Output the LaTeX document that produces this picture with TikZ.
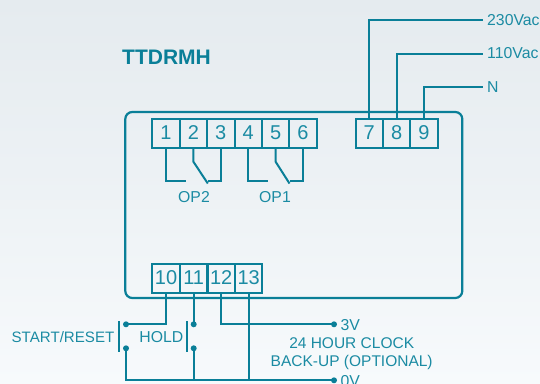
\documentclass[tikz,border=0pt]{standalone}
\usepackage{fontspec}
\setmainfont{Liberation Sans}
\definecolor{wire}{HTML}{0A7F98}
\definecolor{ink}{HTML}{1B8BA3}
\definecolor{bgtop}{HTML}{E5EBEF}
\definecolor{bgbot}{HTML}{F7FAFC}
\tikzset{
  term/.style={draw=wire,line width=2pt,minimum height=29pt,inner sep=0pt,text=ink,font=\fontsize{20}{20}\selectfont},
  term1/.style={term,minimum width=27.4pt},
  wirel/.style={draw=wire,line width=2pt},
  lab/.style={text=ink,inner sep=0pt,font=\fontsize{15.8}{15.8}\selectfont},
  labc/.style={lab,font=\fontsize{15.5}{15.5}\selectfont},
  dot/.style={circle,fill=wire,inner sep=0pt,minimum size=6pt},
}
\begin{document}
\begin{tikzpicture}[x=1pt,y=-1pt]
\useasboundingbox (0,0) rectangle (540,383);
\shade[top color=bgtop,bottom color=bgbot,middle color=bgtop!55!bgbot] (0,0) rectangle (540,383);
\node[text=wire,inner sep=0pt,anchor=west,font=\bfseries\fontsize{21}{21}\selectfont] (title) at (122,57) {TTDRMH};
\node[draw=wire,line width=2.2pt,rounded corners=7pt,minimum width=337pt,minimum height=186pt,inner sep=0pt] (body) at (293.8,205) {};
% terminals
\foreach \n/\x in {1/166,2/193.4,3/220.8,4/248.2,5/275.6,6/303}
  \node[term1] (t\n) at (\x,133) {\n};
\foreach \n/\x in {7/369.2,8/396.6,9/424}
  \node[term1] (t\n) at (\x,133) {\n};
\foreach \n/\x in {10/166.1,11/193.7,12/221.2,13/248.7}
  \node[term1] (t\n) at (\x,278) {\n};
% supply wires
\node[lab,anchor=west] (l230) at (487,20) {230Vac};
\node[lab,anchor=west] (l110) at (487,53.5) {110Vac};
\node[lab,anchor=west] (lN) at (487,87.5) {N};
\coordinate (e230) at (482.7,20.3);
\coordinate (e110) at (482.7,53.7);
\coordinate (eN) at (482.7,87);
\draw[wirel] (t7.north) |- (e230);
\draw[wirel] (t8.north) |- (e110);
\draw[wirel] (t9.north) |- (eN);
% OP2
\coordinate (a1) at (186,181);
\coordinate (a3) at (207.5,181);
\coordinate (k2) at (193.4,161.7);
\coordinate (c2) at (207.8,183.5);
\draw[wirel] (t1.south) |- (a1);
\draw[wirel] (t3.south) |- (a3);
\draw[wirel] (t2.south) -- (k2) -- (c2);
% OP1
\coordinate (a4) at (267.7,181);
\coordinate (a6) at (289.5,181);
\coordinate (k5) at (275.6,161.7);
\coordinate (c5) at (289.5,183.5);
\draw[wirel] (t4.south) |- (a4);
\draw[wirel] (t6.south) |- (a6);
\draw[wirel] (t5.south) -- (k5) -- (c5);
\node[lab] (op2) at (194,196.7) {OP2};
\node[lab] (op1) at (275,196.7) {OP1};
% bottom
\node[dot] (d1) at (126,324.3) {};
\node[dot] (d2) at (126,348.3) {};
\node[dot] (d3) at (193.7,324.3) {};
\node[dot] (d4) at (193.7,348.3) {};
\node[dot] (d3v) at (334,324.3) {};
\node[dot] (d0v) at (334,380.3) {};
\draw[wirel] (t10.south) |- (d1.center);
\draw[wirel] (t11.south) -- (d3.center);
\draw[wirel] (t12.south) |- (d3v.center);
\draw[wirel] (t13.south) -- (t13.south |- d0v.center);
\draw[wirel] (d2.center) |- (d0v.center);
\draw[wirel] (d4.center) -- (d4.center |- d0v.center);
\coordinate (b1a) at (119,321);
\coordinate (b1b) at (119,351.7);
\coordinate (b2a) at (187,321);
\coordinate (b2b) at (187,351.7);
\draw[wirel] (b1a) -- (b1b);
\draw[wirel] (b2a) -- (b2b);
\node[lab,anchor=east,font=\fontsize{15.1}{15.1}\selectfont] (ls) at (114.5,337.5) {START/RESET};
\node[lab,anchor=east] (lh) at (183.5,337.5) {HOLD};
\node[lab,anchor=west] (l3v) at (340.5,324.8) {3V};
\node[lab,anchor=west] (l0v) at (340.5,381) {0V};
\node[labc] (lc1) at (351.7,343.5) {24 HOUR CLOCK};
\node[labc] (lc2) at (351.7,362.5) {BACK-UP (OPTIONAL)};
\end{tikzpicture}
\end{document}
